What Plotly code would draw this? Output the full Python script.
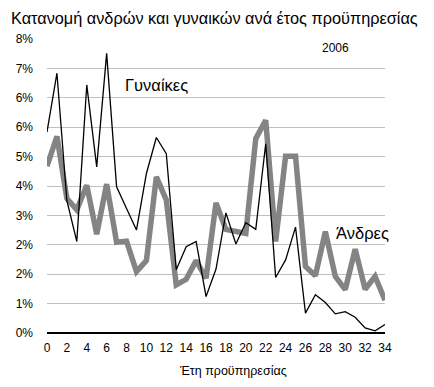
import plotly.graph_objects as go

years = list(range(0, 35))
women = [5.47, 7.07, 3.6, 2.49, 6.75, 4.52, 7.61, 3.98, 3.39, 2.80, 4.34, 5.32, 4.88,
         1.72, 2.35, 2.49, 0.99, 1.74, 3.27, 2.42, 3.0, 2.82, 5.15, 1.51, 1.99, 2.88,
         0.54, 1.04, 0.83, 0.52, 0.58, 0.43, 0.14, 0.06, 0.23]
men = [4.54, 5.35, 3.66, 3.35, 4.02, 2.69, 4.05, 2.47, 2.50, 1.67, 1.97, 4.25, 3.62,
       1.31, 1.46, 1.97, 1.49, 3.54, 2.82, 2.76, 2.71, 5.29, 5.79, 2.49, 4.81, 4.81,
       1.81, 1.56, 2.76, 1.54, 1.18, 2.28, 1.19, 1.54, 0.89]
y_tickvals = [0, 0.8, 1.6, 2.4, 3.2, 4.0, 4.8, 5.6, 6.4, 7.2, 8.0]
y_ticktext = ["0%", "1%", "2%", "2%", "3%", "4%", "5%", "6%", "6%", "7%", "8%"]
x_tickvals = list(range(0, 35, 2))

title = "Κατανομή ανδρών και γυναικών ανά έτος προϋπηρεσίας"
x_title = "Έτη προϋπηρεσίας"
font = "Liberation Sans, Arial, sans-serif"

fig = go.Figure()
fig.add_trace(go.Scatter(x=years, y=men, mode="lines", name="Άνδρες",
                         line=dict(color="#848484", width=5.5)))
fig.add_trace(go.Scatter(x=years, y=women, mode="lines", name="Γυναίκες",
                         line=dict(color="#000000", width=1.3)))

# page has an 8px body margin, so the figure is sized/offset to compensate
fig.update_layout(
    width=426, height=379,
    margin=dict(l=39, r=49, t=31, b=54),
    paper_bgcolor="white", plot_bgcolor="white",
    showlegend=False,
    font=dict(family=font, color="#000", size=12),
    title=dict(text=title, x=0.007, xanchor="left", y=0.974, yanchor="middle",
               font=dict(size=16.3, family=font)),
    xaxis=dict(range=[0, 34], tickvals=x_tickvals, showgrid=False, zeroline=False,
               showline=False, ticks="", tickfont=dict(size=12), ticklabelstandoff=6,
               automargin=False),
    yaxis=dict(range=[0, 8], tickvals=y_tickvals, ticktext=y_ticktext,
               showgrid=True, gridcolor="#c0c0c0", gridwidth=1.3,
               zeroline=True, zerolinecolor="#000", zerolinewidth=1.5,
               showline=False, ticks="", tickfont=dict(size=12), ticklabelstandoff=13,
               automargin=False),
    annotations=[
        dict(text=x_title, x=0.55, y=-0.129, xref="paper", yref="paper",
             xanchor="center", yanchor="middle", showarrow=False, font=dict(size=12.5)),
        dict(text="2006", x=0.855, y=0.969, xref="paper", yref="paper",
             xanchor="center", yanchor="middle", showarrow=False, font=dict(size=12)),
        dict(text="Γυναίκες", x=7.6, y=6.74, xref="x", yref="y",
             xanchor="left", yanchor="middle", showarrow=False, font=dict(size=16.5)),
        dict(text="Άνδρες", x=28.9, y=2.72, xref="x", yref="y",
             xanchor="left", yanchor="middle", showarrow=False, font=dict(size=16.5)),
    ],
)

fig.write_html("out.html")
